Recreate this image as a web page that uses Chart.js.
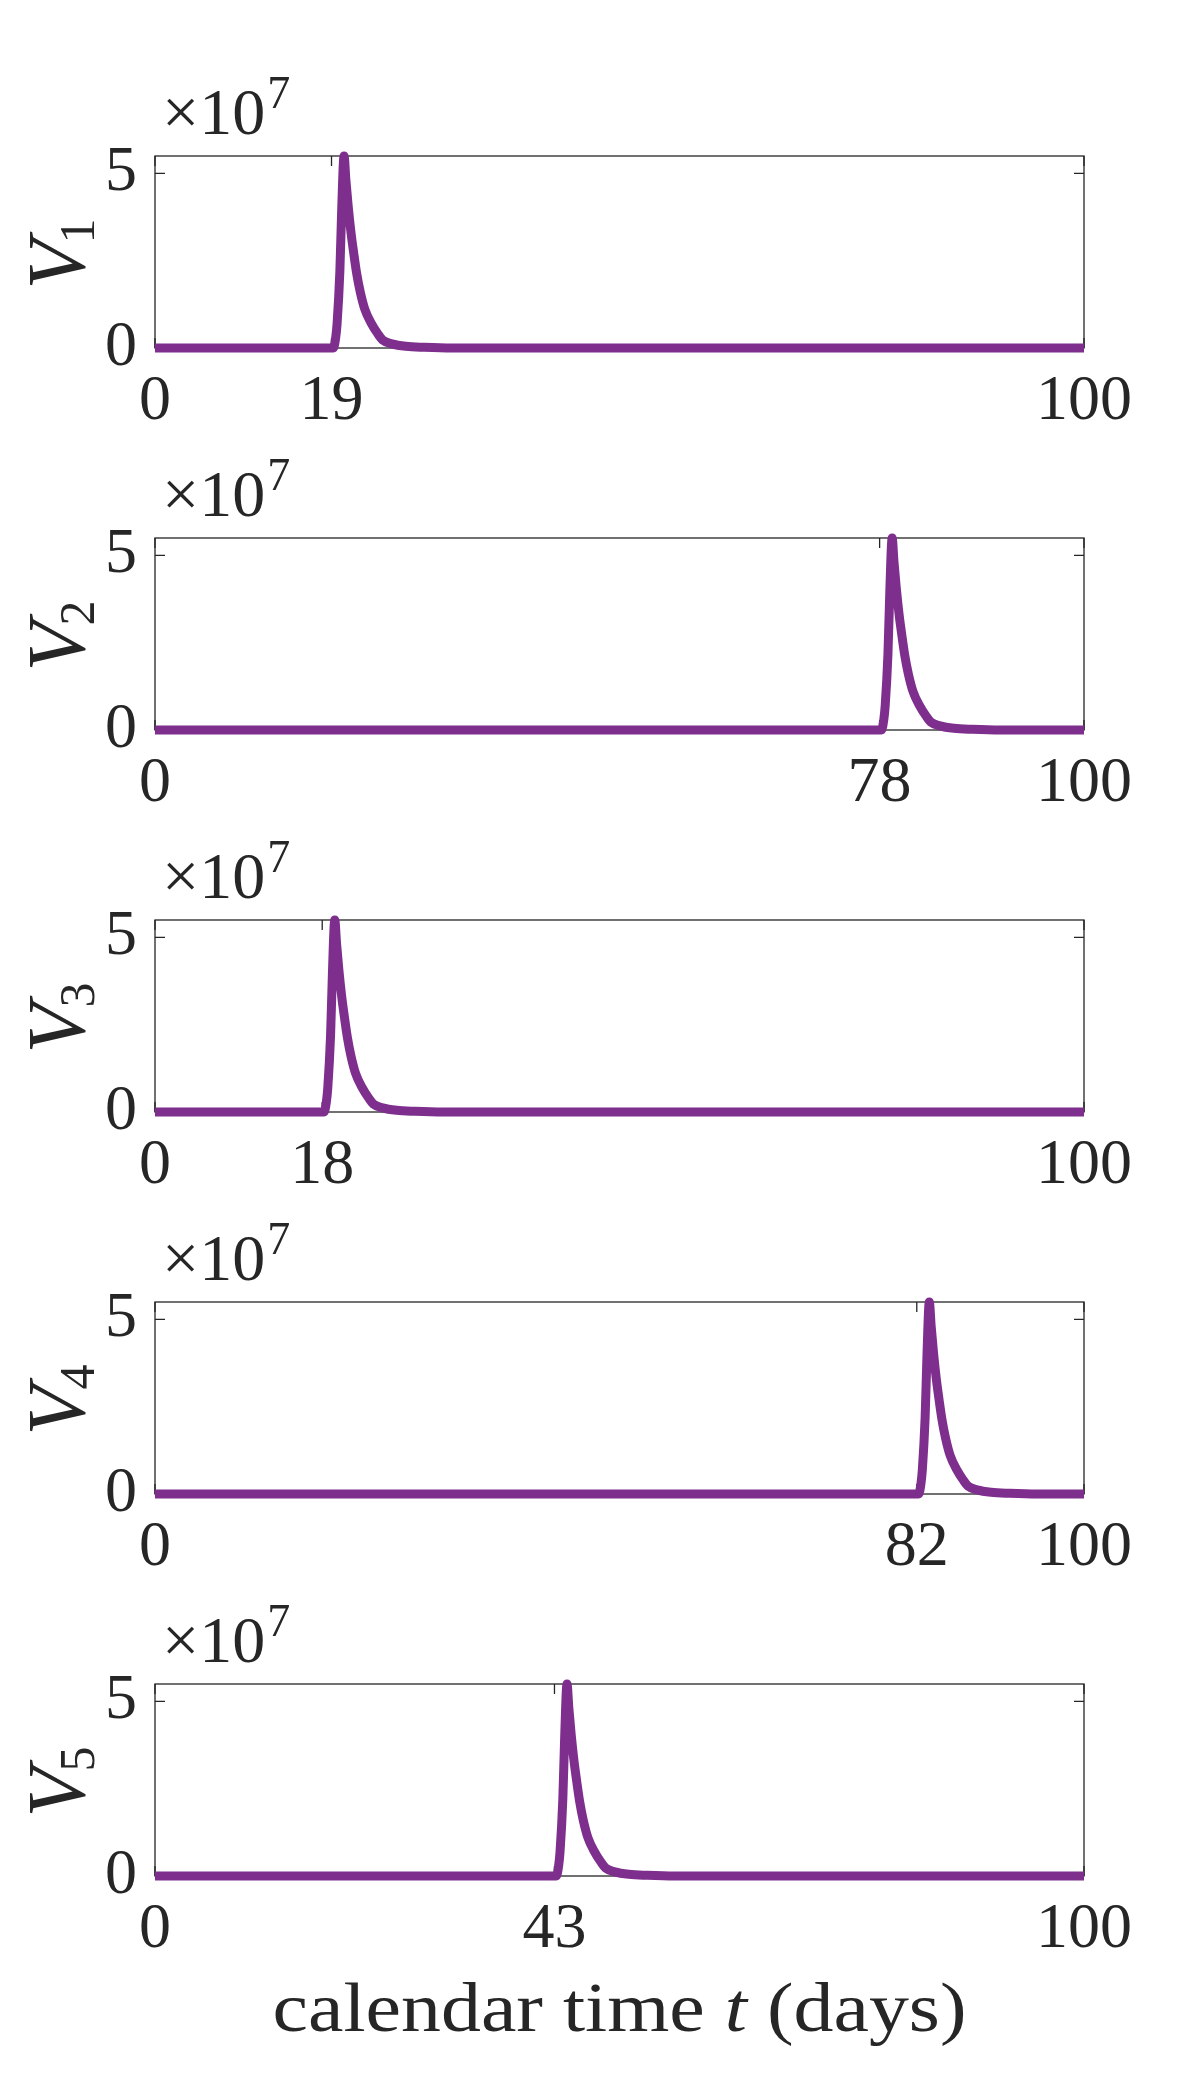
<!DOCTYPE html>
<html>
<head>
<meta charset="utf-8">
<script src="https://cdn.jsdelivr.net/npm/chart.js@4.4.1/dist/chart.umd.min.js"></script>
<style>
  html,body{margin:0;padding:0;background:#fff;}
  #wrap{position:relative;width:1200px;height:2085px;overflow:hidden;background:#fff;}
  #wrap canvas{position:absolute;left:0;}
</style>
</head>
<body>
<div id="wrap"></div>
<script>
// ---- data (values in units of 1e7) ----
const subs = ['1','2','3','4','5'];
const onsetTicks = [19, 78, 18, 82, 43];

const t1 = [0, 19.2, 19.45, 19.6, 19.9, 20.1, 20.35, 20.55, 20.8, 21.1, 21.4, 21.7, 22.1, 22.6, 23.3, 24.0, 24.5, 25.5, 27, 29, 32, 100];
const v1 = [0, 0, 0.3, 0.7, 2.2, 4.0, 5.5, 4.8, 4.05, 3.3, 2.7, 2.15, 1.6, 1.1, 0.7, 0.4, 0.23, 0.12, 0.05, 0.02, 0, 0];

const t2 = [0, 78.2, 78.45, 78.6, 78.9, 79.1, 79.35, 79.55, 79.8, 80.1, 80.4, 80.7, 81.1, 81.6, 82.3, 83.0, 83.5, 84.5, 86, 88, 91, 100];
const v2 = [0, 0, 0.3, 0.7, 2.2, 4.0, 5.5, 4.8, 4.05, 3.3, 2.7, 2.15, 1.6, 1.1, 0.7, 0.4, 0.23, 0.12, 0.05, 0.02, 0, 0];

const t3 = [0, 18.2, 18.45, 18.6, 18.9, 19.1, 19.35, 19.55, 19.8, 20.1, 20.4, 20.7, 21.1, 21.6, 22.3, 23.0, 23.5, 24.5, 26, 28, 31, 100];
const v3 = [0, 0, 0.3, 0.7, 2.2, 4.0, 5.5, 4.8, 4.05, 3.3, 2.7, 2.15, 1.6, 1.1, 0.7, 0.4, 0.23, 0.12, 0.05, 0.02, 0, 0];

const t4 = [0, 82.2, 82.45, 82.6, 82.9, 83.1, 83.35, 83.55, 83.8, 84.1, 84.4, 84.7, 85.1, 85.6, 86.3, 87.0, 87.5, 88.5, 90, 92, 95, 100];
const v4 = [0, 0, 0.3, 0.7, 2.2, 4.0, 5.5, 4.8, 4.05, 3.3, 2.7, 2.15, 1.6, 1.1, 0.7, 0.4, 0.23, 0.12, 0.05, 0.02, 0, 0];

const t5 = [0, 43.2, 43.45, 43.6, 43.9, 44.1, 44.35, 44.55, 44.8, 45.1, 45.4, 45.7, 46.1, 46.6, 47.3, 48.0, 48.5, 49.5, 51, 53, 56, 100];
const v5 = [0, 0, 0.3, 0.7, 2.2, 4.0, 5.5, 4.8, 4.05, 3.3, 2.7, 2.15, 1.6, 1.1, 0.7, 0.4, 0.23, 0.12, 0.05, 0.02, 0, 0];

const yTicks = [0, 5];
const xLabel = ['calendar time ', 't', ' (days)'];

// ---- layout / style ----
const T = [t1, t2, t3, t4, t5];
const V = [v1, v2, v3, v4, v5];
const STEP = 382, AREA_TOP = 156, AREA_BOT = 348, AREA_L = 155, AREA_R = 1084;
const ink = '#262626', purple = '#7E2F8E';
const serif = '"Liberation Serif", "Times New Roman", serif';
const tickFont = {family: serif, size: 64};

const frame = {
  id: 'frame',
  beforeDatasetsDraw(chart){
    const {ctx, chartArea: a, scales: {x, y}} = chart;
    ctx.save();
    ctx.strokeStyle = ink; ctx.lineWidth = 1.3;
    ctx.strokeRect(a.left, a.top, a.right - a.left, a.bottom - a.top);
    const tl = 10;
    ctx.beginPath();
    y.ticks.forEach(t => {
      const py = y.getPixelForValue(t.value);
      ctx.moveTo(a.left, py); ctx.lineTo(a.left + tl, py);
      ctx.moveTo(a.right, py); ctx.lineTo(a.right - tl, py);
    });
    x.ticks.forEach(t => {
      const px = x.getPixelForValue(t.value);
      ctx.moveTo(px, a.bottom); ctx.lineTo(px, a.bottom - tl);
      ctx.moveTo(px, a.top); ctx.lineTo(px, a.top + tl);
    });
    ctx.stroke();
    ctx.restore();
  },
  afterDraw(chart, args, o){
    const {ctx, chartArea: a} = chart;
    ctx.save();
    ctx.fillStyle = ink;
    ctx.textBaseline = 'alphabetic';
    ctx.textAlign = 'left';
    // x10^7 multiplier
    ctx.font = `66px ${serif}`;
    ctx.fillText('\u00d710', 162, a.top - 22);
    const w = ctx.measureText('\u00d710').width;
    ctx.font = `46px ${serif}`;
    ctx.fillText('7', 162 + w + 2, a.top - 48);
    // y label V_i, rotated
    const cy = (a.top + a.bottom) / 2;
    ctx.translate(84, cy);
    ctx.rotate(-Math.PI / 2);
    ctx.font = `italic 82px ${serif}`;
    const wv = ctx.measureText('V').width;
    ctx.font = `50px ${serif}`;
    const ws = ctx.measureText(o.sub).width;
    const x0 = -(wv + ws) / 2;
    ctx.font = `italic 82px ${serif}`;
    ctx.fillText('V', x0, 0);
    ctx.font = `50px ${serif}`;
    ctx.fillText(o.sub, x0 + wv - 4, 10);
    ctx.restore();

    if (o.last) {
      ctx.save();
      ctx.fillStyle = ink;
      ctx.textBaseline = 'alphabetic';
      const up = `70px ${serif}`, it = `italic 70px ${serif}`;
      const parts = xLabel.map((s, k) => ({s, f: k === 1 ? it : up}));
      let total = 0;
      parts.forEach(p => { ctx.font = p.f; p.w = ctx.measureText(p.s).width; total += p.w; });
      const target = 694, sx = target / total;
      const cx = (a.left + a.right) / 2;
      ctx.translate(cx - target / 2, a.bottom + 155);
      ctx.scale(sx, 1);
      let xx = 0;
      parts.forEach(p => { ctx.font = p.f; ctx.fillText(p.s, xx, 0); xx += p.w; });
      ctx.restore();
    }
  }
};

const wrap = document.getElementById('wrap');

function makePanel(i){
  const top = i * STEP;
  const h = i === 4 ? 2085 - top : 440;
  const cv = document.createElement('canvas');
  cv.width = 1200; cv.height = h;
  cv.style.top = top + 'px';
  cv.style.width = '1200px'; cv.style.height = h + 'px';
  wrap.appendChild(cv);
  const xt = [0, onsetTicks[i], 100];
  const pts = T[i].map((t, k) => ({x: t, y: V[i][k]}));
  return new Chart(cv, {
    type: 'line',
    data: {datasets: [{
      data: pts, borderColor: purple, backgroundColor: purple,
      borderWidth: 9, pointRadius: 0, cubicInterpolationMode: 'monotone', clip: false,
      borderJoinStyle: 'round', borderCapStyle: 'butt'
    }]},
    options: {
      responsive: false, animation: false, devicePixelRatio: 1,
      layout: {padding: {top: AREA_TOP, left: 0, right: 1200 - AREA_R, bottom: 0}},
      plugins: {legend: {display: false}, tooltip: {enabled: false},
        frame: {sub: subs[i], last: i === 4}},
      scales: {
        x: {
          type: 'linear', min: 0, max: 100,
          afterBuildTicks: s => { s.ticks = xt.map(v => ({value: v})); },
          afterFit: s => { s.height = h - AREA_BOT; },
          grid: {display: false, drawTicks: false}, border: {display: false},
          ticks: {font: tickFont, color: ink, padding: 16, maxRotation: 0, autoSkip: false,
            callback: v => String(v)}
        },
        y: {
          min: 0, max: 5.5,
          afterBuildTicks: s => { s.ticks = yTicks.map(v => ({value: v})); },
          afterFit: s => { s.width = AREA_L; },
          grid: {display: false, drawTicks: false}, border: {display: false},
          ticks: {font: tickFont, color: ink, padding: 18, callback: v => String(v)}
        }
      }
    },
    plugins: [frame]
  });
}

for (let i = 0; i < 5; i++) makePanel(i);
</script>
</body>
</html>
